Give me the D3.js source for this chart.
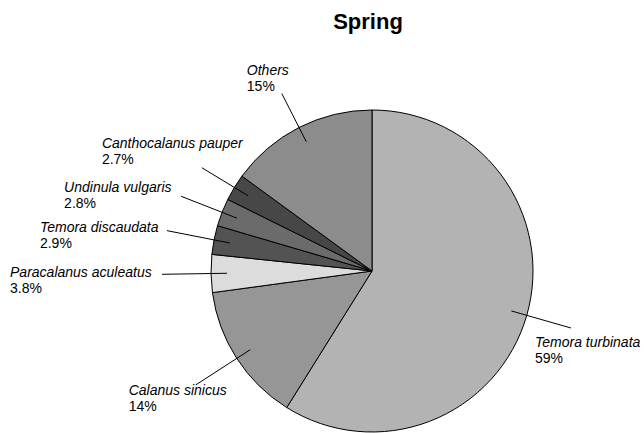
<!DOCTYPE html>
<html>
<head>
<meta charset="utf-8">
<script src="https://cdn.jsdelivr.net/npm/d3@7"></script>
<style>
  html, body { margin: 0; padding: 0; background: #fff; }
  svg { display: block; font-family: "Liberation Sans", Arial, sans-serif; }
</style>
</head>
<body>
<svg id="chart" width="644" height="433"></svg>
<script>
// ---- data ----
const title = "Spring";
const categories = ["Temora turbinata", "Calanus sinicus", "Paracalanus aculeatus",
                    "Temora discaudata", "Undinula vulgaris", "Canthocalanus pauper", "Others"];
const values = [59, 14, 3.8, 2.9, 2.8, 2.7, 15];
const valueLabels = ["59%", "14%", "3.8%", "2.9%", "2.8%", "2.7%", "15%"];
const colors = ["#b3b3b3", "#969696", "#dcdcdc", "#535353", "#6b6b6b", "#474747", "#8c8c8c"];

// ---- layout (label placement relative to leader end) ----
const labelLayout = [
  { r: 207, dx: -36, dy: 19 },
  { r: 210, dx: -67, dy: 10 },
  { r: 210, dx: -152, dy: 3 },
  { r: 209, dx: -127, dy: 1 },
  { r: 205, dx: -117, dy: -4 },
  { r: 199, dx: -100, dy: -20 },
  { r: 199, dx: -35, dy: -19 }
];

const svg = d3.select("#chart");
const cx = 372, cy = 271, R = 161;

svg.append("text")
  .attr("x", 368).attr("y", 29)
  .attr("text-anchor", "middle")
  .style("font-weight", "bold")
  .style("font-size", "22px")
  .text(title);

const data = categories.map((c, i) => ({ name: c, value: values[i], label: valueLabels[i], color: colors[i], lay: labelLayout[i] }));

const pie = d3.pie().value(d => d.value).sort(null).startAngle(0).endAngle(2 * Math.PI);
const arcs = pie(data);
const arc = d3.arc().innerRadius(0).outerRadius(R);

const g = svg.append("g").attr("transform", `translate(${cx},${cy})`);

g.selectAll("path.slice")
  .data(arcs)
  .join("path")
  .attr("class", "slice")
  .attr("d", arc)
  .attr("fill", d => d.data.color)
  .attr("stroke", "#000")
  .attr("stroke-width", 1)
  .attr("stroke-linejoin", "round");

function pointAt(a, r) {
  return [r * Math.sin(a), -r * Math.cos(a)];
}

arcs.forEach(d => {
  const mid = (d.startAngle + d.endAngle) / 2;
  const p1 = pointAt(mid, 145);
  const p2 = pointAt(mid, d.data.lay.r);
  g.append("line")
    .attr("x1", p1[0]).attr("y1", p1[1])
    .attr("x2", p2[0]).attr("y2", p2[1])
    .attr("stroke", "#000").attr("stroke-width", 1);
  const tx = p2[0] + d.data.lay.dx, ty = p2[1] + d.data.lay.dy;
  const t = g.append("text")
    .attr("x", tx).attr("y", ty)
    .style("font-size", "14px")
    .attr("fill", "#000");
  t.append("tspan").attr("x", tx).attr("y", ty)
    .style("font-style", "italic").text(d.data.name);
  t.append("tspan").attr("x", tx).attr("y", ty + 16).text(d.data.label);
});
</script>
</body>
</html>
